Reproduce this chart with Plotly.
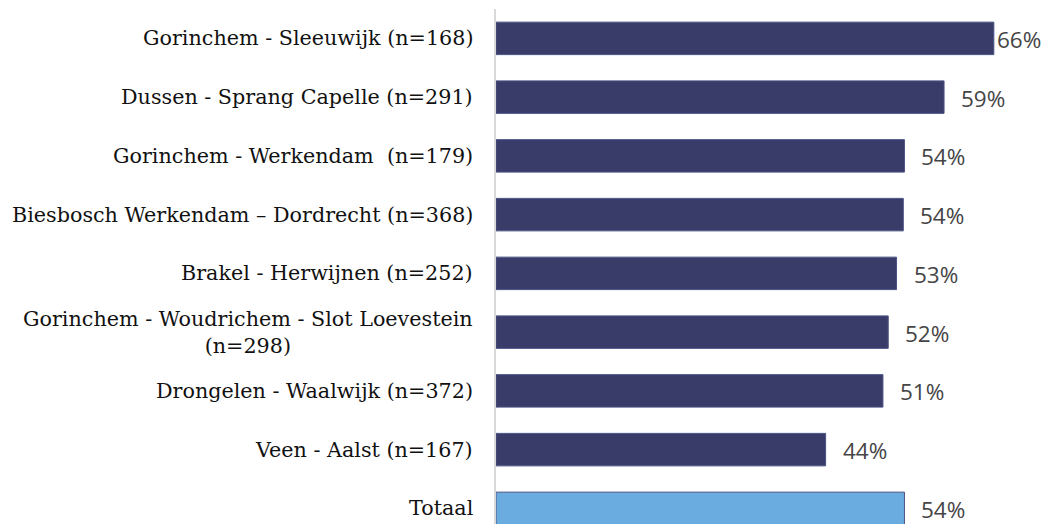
import plotly.graph_objects as go

categories = [
    "Gorinchem - Sleeuwijk (n=168)",
    "Dussen - Sprang Capelle (n=291)",
    "Gorinchem - Werkendam  (n=179)",
    "Biesbosch Werkendam – Dordrecht (n=368)",
    "Brakel - Herwijnen (n=252)",
    "Gorinchem - Woudrichem - Slot Loevestein<br>(n=298)",
    "Drongelen - Waalwijk (n=372)",
    "Veen - Aalst (n=167)",
    "Totaal",
]
values = [66.0, 59.4, 54.15, 54.0, 53.1, 52.0, 51.3, 43.7, 54.15]
labels = ["66%", "59%", "54%", "54%", "53%", "52%", "51%", "44%", "54%"]

DARK = "#393c68"
LIGHT = "#6aacdf"
colors = [DARK] * (len(categories) - 1) + [LIGHT]
y_idx = list(range(len(categories)))

fig = go.Figure()
fig.add_trace(go.Bar(
    x=values,
    y=y_idx,
    orientation="h",
    marker=dict(color=colors, line=dict(color="#4b5284", width=1)),
    width=0.553,
    hoverinfo="skip",
))

annotations = []
for i, (v, lab, cat) in enumerate(zip(values, labels, categories)):
    shift = 15 if v < 65 else 1
    annotations.append(dict(
        x=v, y=i, xref="x", yref="y", text=lab, showarrow=False,
        xanchor="left", yanchor="middle", xshift=shift, yshift=-1,
        font=dict(family="Open Sans", size=22.5, color="#454545"),
    ))
    annotations.append(dict(
        x=0, y=i, xref="paper", yref="y", text=cat, showarrow=False,
        xanchor="right", yanchor="middle", xshift=-21, align="center",
        font=dict(family="DejaVu Serif", size=20.7, color="#111111"),
    ))

band = 58.75
plot_h = 524 - 9
fig.update_layout(
    width=1047, height=524,
    margin=dict(l=496, r=23, t=9, b=0, pad=0),
    paper_bgcolor="white", plot_bgcolor="white",
    showlegend=False,
    annotations=annotations,
    xaxis=dict(range=[0, 70], visible=False, fixedrange=True),
    yaxis=dict(
        range=[-0.5 + plot_h / band, -0.5],
        showticklabels=False, showgrid=False, zeroline=False,
        showline=True, linecolor="#d9d9d9", linewidth=2, ticks="",
        fixedrange=True,
    ),
)

fig.write_html(
    "out.html",
    config={"displayModeBar": False},
    post_script="document.body.style.margin='0';document.documentElement.style.overflow='hidden';document.body.style.overflow='hidden';",
)
